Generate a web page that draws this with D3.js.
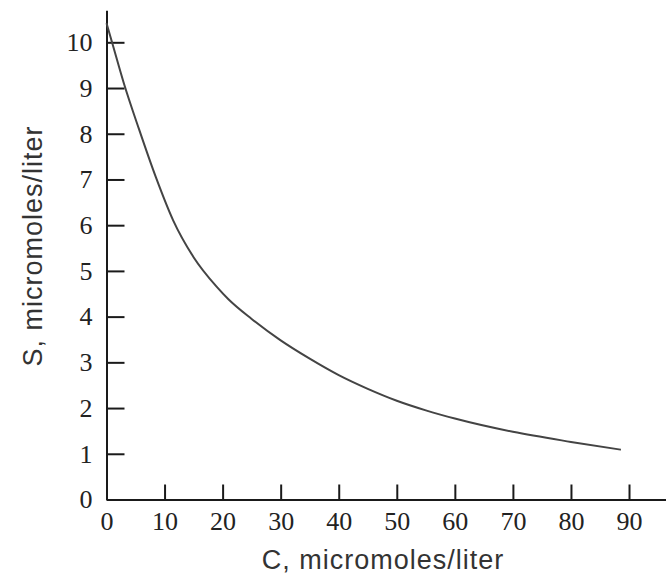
<!DOCTYPE html>
<html>
<head>
<meta charset="utf-8">
<script src="https://cdn.jsdelivr.net/npm/d3@7"></script>
<style>
  html, body { margin: 0; padding: 0; background: #fff; }
  svg { display: block; }
</style>
</head>
<body>
<svg id="chart" width="666" height="577"></svg>
<script>
// ---- data ----
const concentrationC = [0, 1, 3, 5.6, 8.5, 11.5, 15, 19, 21, 25, 30, 35, 40, 45, 50, 55, 60, 70, 80, 88.6];
const concentrationS = [10.42, 9.98, 9.1, 8.1, 7.05, 6.1, 5.3, 4.65, 4.38, 3.95, 3.48, 3.08, 2.72, 2.42, 2.16, 1.95, 1.77, 1.48, 1.26, 1.09];
const xTickValues = [0, 10, 20, 30, 40, 50, 60, 70, 80, 90];
const yTickValues = [0, 1, 2, 3, 4, 5, 6, 7, 8, 9, 10];
const xTitle = "C, micromoles/liter";
const yTitle = "S, micromoles/liter";

const svg = d3.select("#chart");
const x = d3.scaleLinear().domain([0, 96.37]).range([106.5, 666]);
const y = d3.scaleLinear().domain([0, 10.7]).range([499.5, 10.3]);

const tickFont = "'Liberation Serif', 'DejaVu Serif', serif";
const titleFont = "'Liberation Sans', Arial, sans-serif";

// x axis
const gx = svg.append("g")
  .attr("transform", `translate(0,${y(0)})`)
  .call(d3.axisBottom(x).tickValues(xTickValues).tickSizeInner(-15).tickSizeOuter(0).tickPadding(12));
gx.select(".domain").attr("stroke", "#1a1a1a").attr("stroke-width", 2);
gx.selectAll(".tick line").attr("stroke", "#1a1a1a").attr("stroke-width", 2);
gx.selectAll(".tick text").attr("font-family", tickFont).attr("font-size", 26).attr("fill", "#222");

// y axis
const gy = svg.append("g")
  .attr("transform", `translate(${x(0)},0)`)
  .call(d3.axisLeft(y).tickValues(yTickValues).tickSizeInner(-18).tickSizeOuter(0).tickPadding(14));
gy.select(".domain").attr("stroke", "#1a1a1a").attr("stroke-width", 2);
gy.selectAll(".tick line").attr("stroke", "#1a1a1a").attr("stroke-width", 2);
gy.selectAll(".tick text").attr("font-family", tickFont).attr("font-size", 26).attr("fill", "#222");

// curve
const pts = concentrationC.map((c, i) => [c, concentrationS[i]]);
svg.append("path")
  .datum(pts)
  .attr("fill", "none")
  .attr("stroke", "#444")
  .attr("stroke-width", 2)
  .attr("d", d3.line().x(d => x(d[0])).y(d => y(d[1])).curve(d3.curveMonotoneX));

// titles
svg.append("text")
  .attr("x", 383).attr("y", 569)
  .attr("text-anchor", "middle")
  .attr("font-family", titleFont).attr("font-size", 27).attr("letter-spacing", 1)
  .attr("fill", "#333")
  .text(xTitle);

svg.append("text")
  .attr("transform", `translate(42,246) rotate(-90)`)
  .attr("text-anchor", "middle")
  .attr("font-family", titleFont).attr("font-size", 27).attr("letter-spacing", 1)
  .attr("fill", "#333")
  .text(yTitle);
</script>
</body>
</html>
